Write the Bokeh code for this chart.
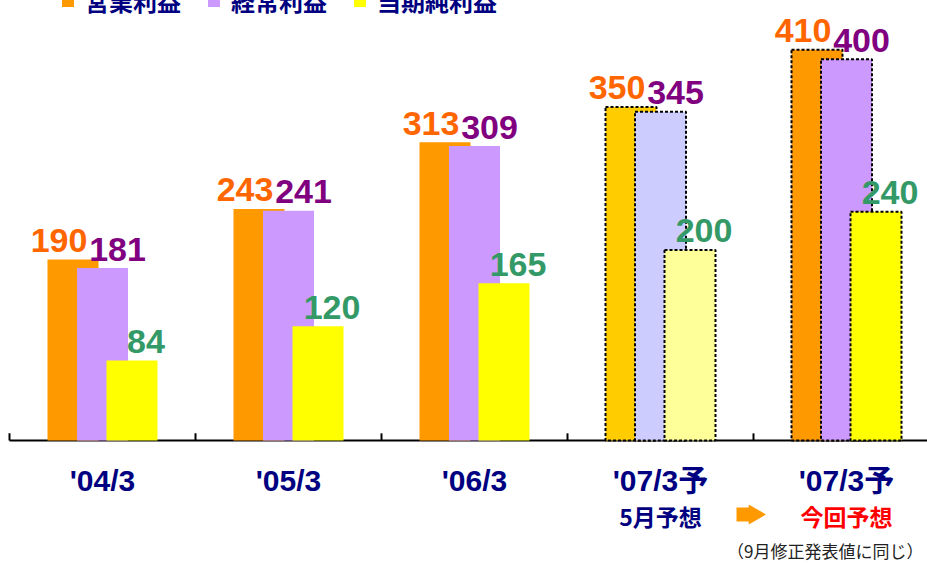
import math
from bokeh.plotting import figure
from bokeh.models import Range1d, ColumnDataSource, Legend, LegendItem
from bokeh.core.properties import value
from bokeh.embed import file_html
from bokeh.resources import INLINE

# ---------------- data ----------------
categories = ["'04/3", "'05/3", "'06/3", "'07/3予", "'07/3予"]
sub_labels = ["", "", "", "5月予想", "今回予想"]
series_names = ["営業利益", "経常利益", "当期純利益"]
operating = [190, 243, 313, 350, 410]
ordinary = [181, 241, 309, 345, 400]
net = [84, 120, 165, 200, 240]
note_text = "（9月修正発表値に同じ）"

# ---------------- styles ----------------
series_fill = [
    ["#FF9900", "#FF9900", "#FF9900", "#FFCC00", "#FF9900"],
    ["#CC99FF", "#CC99FF", "#CC99FF", "#CCCCFF", "#CC99FF"],
    ["#FFFF00", "#FFFF00", "#FFFF00", "#FFFF99", "#FFFF00"],
]
outline_alpha = [0, 0, 0, 1, 1]
label_colors = ["#FF6600", "#800080", "#339966"]
label_dx = [-14, 15, 14]
sub_colors = ["#000080", "#000080", "#000080", "#000080", "#FF0000"]
NAVY = "#000080"

W, H = 927, 563
Y0 = 440          # baseline pixel
K = 0.953         # px per unit
CW = 186          # px per category
X0 = 9            # pixel of first category boundary
BW = 51 / CW
OFF = 29.5 / CW

p = figure(width=W, height=H, output_backend="svg", toolbar_location=None,
           x_axis_type=None, y_axis_type=None, min_border=0,
           x_range=Range1d(-X0 / CW, (W - X0) / CW),
           y_range=Range1d(-(H - Y0) / K, Y0 / K),
           margin=0)
p.outline_line_color = None
p.grid.visible = False
p.background_fill_color = "white"

n = len(categories)
centers = [i + 0.5 for i in range(n)]
bounds = list(range(n + 1))

# baseline + tick marks
p.segment(x0=[0], y0=[0], x1=[n], y1=[0], line_color="black", line_width=2)
p.segment(x0=bounds, y0=[0] * len(bounds), x1=bounds, y1=[7.5] * len(bounds),
          line_color="black", line_width=2)

series_vals = [operating, ordinary, net]
renderers = []
for s, vals in enumerate(series_vals):
    xs = [c + (s - 1) * OFF for c in centers]
    src = ColumnDataSource(dict(x=xs, top=vals, fill=series_fill[s],
                                la=outline_alpha, lbl=[str(v) for v in vals]))
    r = p.vbar(x="x", top="top", bottom=0, width=BW, source=src,
               fill_color="fill", line_color="black", line_alpha="la",
               line_width=2, line_dash="3 2")
    renderers.append(r)
for s, vals in enumerate(series_vals):
    xs = [c + (s - 1) * OFF for c in centers]
    src = ColumnDataSource(dict(x=xs, y=vals, lbl=[str(v) for v in vals]))
    p.text(x="x", y="y", text="lbl", source=src, text_align="center",
           text_baseline="alphabetic", x_offset=label_dx[s], y_offset=-19,
           text_color=label_colors[s], text_font=value("Liberation Sans"),
           text_font_style="bold", text_font_size="34px")

# category labels
cat_src = ColumnDataSource(dict(x=centers, y=[0] * n, t=categories,
                                t2=sub_labels, c2=sub_colors))
p.text(x="x", y="y", text="t", source=cat_src, text_align="center",
       text_baseline="alphabetic", y_offset=40, text_color=NAVY,
       text_font=value("Liberation Sans, Noto Sans CJK JP"),
       text_font_style="bold", text_font_size="30px")
p.text(x="x", y="y", text="t2", source=cat_src, text_align="center",
       text_baseline="alphabetic", y_offset=75, text_color="c2",
       text_font=value("Noto Sans CJK JP"), text_font_style="bold",
       text_font_size="23px")

# arrow between forecasts
ay = -(514 - Y0) / K
ax = n - 1
p.rect(x=[ax - 10.5 / CW], y=[ay], width=13, height=14, width_units="screen",
       height_units="screen", fill_color="#FF9900", line_color=None)
p.scatter(x=[ax + 1 / CW], y=[ay], marker="triangle", size=20, angle=-math.pi / 2,
          fill_color="#FF9900", line_color=None)

# note
p.text(x=[n], y=[0], text=[note_text], text_align="right",
       text_baseline="alphabetic", x_offset=-16, y_offset=110, text_color="#222222",
       text_font=value("Noto Sans CJK JP"), text_font_size="17px")

legend = Legend(items=[LegendItem(label=series_names[i], renderers=[renderers[i]], index=0)
                       for i in range(3)],
                orientation="horizontal", location=(60, H - 18),
                padding=0, margin=0, spacing=25, label_standoff=10,
                glyph_width=15, glyph_height=15,
                label_text_font="Noto Sans CJK JP", label_text_font_style="bold",
                label_text_font_size="24px", label_text_color=NAVY,
                background_fill_alpha=0, border_line_alpha=0)
p.add_layout(legend)

open("out.html", "w").write(file_html(p, INLINE))
